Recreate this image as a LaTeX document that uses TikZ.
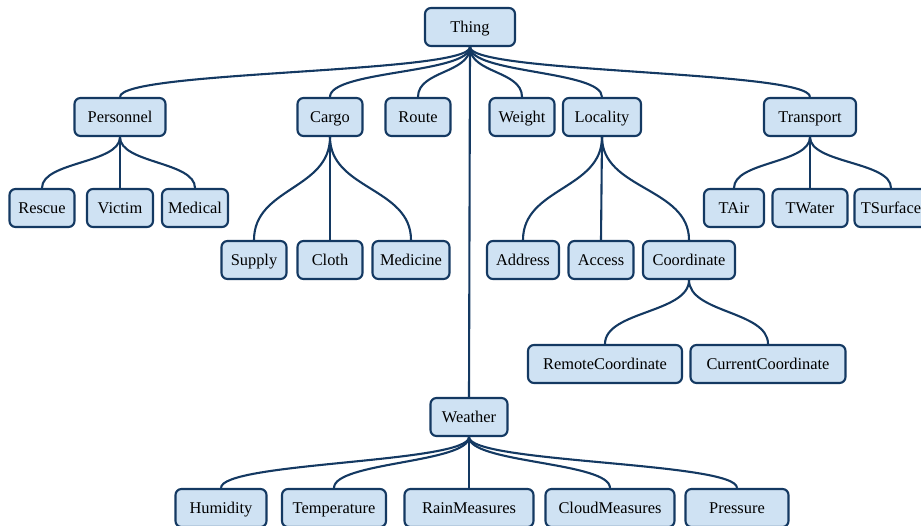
\documentclass[tikz,border=0pt]{standalone}
\usepackage{fontspec}
\setmainfont{Liberation Serif}
\definecolor{nodefill}{RGB}{207,226,243}
\definecolor{nodeline}{RGB}{20,57,98}
\newcommand\vedge[3]{\draw[link] (#1.south) .. controls +(0,#3) and +(0,-#3) .. (#2.north);}
\begin{document}
\begin{tikzpicture}[x=1pt,y=-1pt,
  box/.style={draw=nodeline, fill=nodefill, line width=2.1pt, rounded corners=6pt,
    minimum height=38pt, inner sep=0pt, text height=11.4pt, text depth=0pt,
    font=\fontsize{16.4}{19}\selectfont, text=black},
  link/.style={draw=nodeline, line width=2.1pt}]
\useasboundingbox (0,0) rectangle (921,526);
\clip (0,0) rectangle (921,526);

% top
\node[box, minimum width=90pt] (thing) at (470,27) {Thing};

% row 1
\node[box, minimum width=91pt] (personnel) at (120,117) {Personnel};
\node[box, minimum width=65pt] (cargo) at (330,117) {Cargo};
\node[box, minimum width=65pt] (route) at (418,117) {Route};
\node[box, minimum width=65pt] (weight) at (522,117) {Weight};
\node[box, minimum width=78pt] (locality) at (602,117) {Locality};
\node[box, minimum width=92pt] (transport) at (810,117) {Transport};

% row 2
\node[box, minimum width=65pt] (rescue) at (42,208) {Rescue};
\node[box, minimum width=66pt] (victim) at (120,208) {Victim};
\node[box, minimum width=66pt] (medical) at (195,208) {Medical};
\node[box, minimum width=60pt] (tair) at (734,208) {TAir};
\node[box, minimum width=75pt] (twater) at (810,208) {TWater};
\node[box, minimum width=73pt] (tsurface) at (891,208) {TSurface};

% row 3
\node[box, minimum width=65pt] (supply) at (254,260) {Supply};
\node[box, minimum width=65pt] (cloth) at (330,260) {Cloth};
\node[box, minimum width=77pt] (medicine) at (411,260) {Medicine};
\node[box, minimum width=72pt] (address) at (523,260) {Address};
\node[box, minimum width=65pt] (access) at (601,260) {Access};
\node[box, minimum width=92pt] (coordinate) at (689,260) {Coordinate};

% row 4
\node[box, minimum width=154pt] (remote) at (605,364) {RemoteCoordinate};
\node[box, minimum width=155pt] (current) at (768,364) {CurrentCoordinate};

% weather
\node[box, minimum width=77pt] (weather) at (469,417) {Weather};
\node[box, minimum width=91pt] (humidity) at (221,508) {Humidity};
\node[box, minimum width=104pt] (temperature) at (334,508) {Temperature};
\node[box, minimum width=129pt] (rain) at (469,508) {RainMeasures};
\node[box, minimum width=129pt] (cloud) at (610,508) {CloudMeasures};
\node[box, minimum width=103pt] (pressure) at (737,508) {Pressure};

% edges from Thing
\vedge{thing}{personnel}{26.5}
\vedge{thing}{cargo}{26.5}
\vedge{thing}{route}{26.5}
\vedge{thing}{weight}{26.5}
\vedge{thing}{locality}{26.5}
\vedge{thing}{transport}{26.5}
\draw[link] (thing.south) -- (weather.north);

% Personnel
\vedge{personnel}{rescue}{26.5}
\draw[link] (personnel.south) -- (victim.north);
\vedge{personnel}{medical}{26.5}

% Transport
\vedge{transport}{tair}{26.5}
\draw[link] (transport.south) -- (twater.north);
\vedge{transport}{tsurface}{26.5}

% Cargo
\vedge{cargo}{supply}{52.5}
\draw[link] (cargo.south) -- (cloth.north);
\vedge{cargo}{medicine}{52.5}

% Locality
\vedge{locality}{address}{52.5}
\draw[link] (locality.south) -- (access.north);
\vedge{locality}{coordinate}{52.5}

% Coordinate
\vedge{coordinate}{remote}{33}
\vedge{coordinate}{current}{33}

% Weather
\vedge{weather}{humidity}{26}
\vedge{weather}{temperature}{26}
\draw[link] (weather.south) -- (rain.north);
\vedge{weather}{cloud}{26}
\vedge{weather}{pressure}{26}
\end{tikzpicture}
\end{document}
